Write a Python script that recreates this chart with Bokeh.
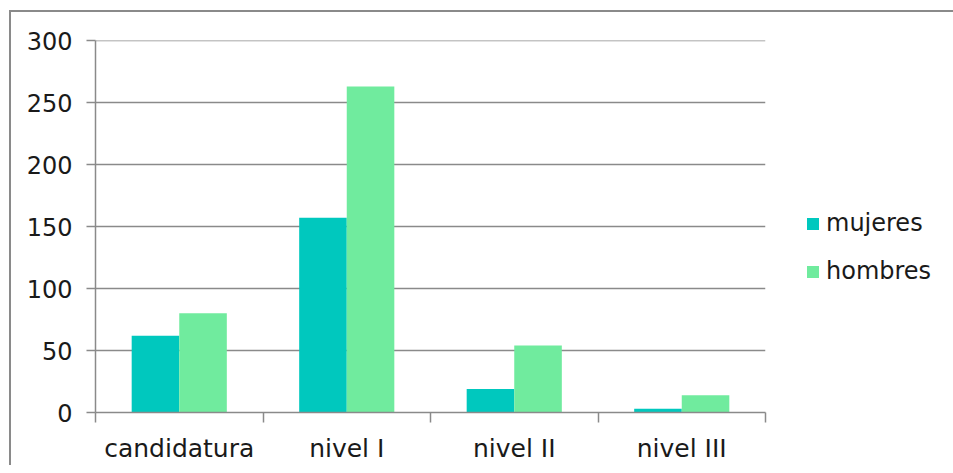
from bokeh.plotting import figure
from bokeh.models import ColumnDataSource, FixedTicker, Legend, LegendItem
from bokeh.embed import file_html
from bokeh.resources import INLINE

# Data
categories = ["candidatura", "nivel I", "nivel II", "nivel III"]
mujeres = [62, 157, 19, 3]
hombres = [80, 263, 54, 14]
y_ticks = [0, 50, 100, 150, 200, 250, 300]

TEAL = "#00c8be"
GREEN = "#70eb9e"
GRID = "#8a8a8a"
FONT = "DejaVu Sans"
TEXT = "#1a1a1a"

centers = [i + 0.5 for i in range(len(categories))]
bar_w = 0.284
src = ColumnDataSource(dict(
    x_m=[c - bar_w / 2 for c in centers],
    x_h=[c + bar_w / 2 for c in centers],
    mujeres=mujeres,
    hombres=hombres,
))

p = figure(
    frame_width=670, frame_height=372,
    x_range=(0, len(categories)), y_range=(0, 300.02),
    output_backend="svg", toolbar_location=None,
    min_border_left=84, min_border_top=28,
    min_border_right=37, min_border_bottom=49,
    margin=(10, 0, 0, 9),
)
p.styles = {"border-left": "2px solid #8a8a8a", "border-top": "2px solid #8a8a8a"}
p.outline_line_color = None
p.background_fill_color = "white"
p.border_fill_color = "white"

r_m = p.vbar(x="x_m", top="mujeres", width=bar_w, source=src,
             fill_color=TEAL, line_color=None)
r_h = p.vbar(x="x_h", top="hombres", width=bar_w, source=src,
             fill_color=GREEN, line_color=None)

# y axis
p.yaxis.ticker = FixedTicker(ticks=y_ticks)
p.yaxis.axis_line_color = GRID
p.yaxis.axis_line_width = 1.5
p.yaxis.major_tick_line_color = GRID
p.yaxis.major_tick_line_width = 1.5
p.yaxis.major_tick_in = 0
p.yaxis.major_tick_out = 9
p.yaxis.minor_tick_line_color = None
p.yaxis.major_label_standoff = 14
p.yaxis.major_label_text_font = FONT
p.yaxis.major_label_text_font_size = "24px"
p.yaxis.major_label_text_color = TEXT

# x axis: labels at category centres, ticks at category boundaries
p.xaxis.ticker = FixedTicker(ticks=centers,
                             minor_ticks=list(range(len(categories) + 1)))
p.xaxis.major_label_overrides = {c: name for c, name in zip(centers, categories)}
p.xaxis.axis_line_color = GRID
p.xaxis.axis_line_width = 1.5
p.xaxis.major_tick_line_color = None
p.xaxis.major_tick_in = 0
p.xaxis.major_tick_out = 10
p.xaxis.minor_tick_line_color = GRID
p.xaxis.minor_tick_line_width = 1.5
p.xaxis.minor_tick_in = 0
p.xaxis.minor_tick_out = 10
p.xaxis.major_label_standoff = 11
p.xaxis.major_label_text_font = FONT
p.xaxis.major_label_text_font_size = "25px"
p.xaxis.major_label_text_color = TEXT

p.xgrid.grid_line_color = None
p.ygrid.ticker = FixedTicker(ticks=y_ticks)
p.ygrid.grid_line_color = GRID
p.ygrid.grid_line_width = 1.5

legend = Legend(
    items=[LegendItem(label="mujeres", renderers=[r_m]),
           LegendItem(label="hombres", renderers=[r_h])],
    location=(40, 127),
    orientation="vertical",
    glyph_width=15, glyph_height=15,
    label_height=26, label_standoff=6,
    spacing=20, padding=0, margin=0,
    border_line_color=None, background_fill_alpha=0,
    label_text_font=FONT, label_text_font_size="24px",
    label_text_color=TEXT,
)
p.add_layout(legend, "right")

open("out.html", "w").write(file_html(p, INLINE))
